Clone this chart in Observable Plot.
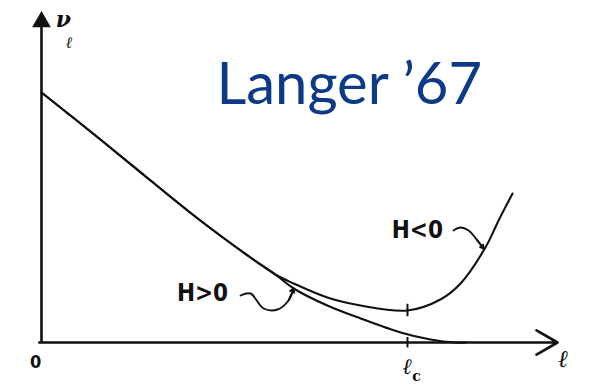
<!DOCTYPE html>
<html>
<head>
<meta charset="utf-8">
<script src="https://cdn.jsdelivr.net/npm/d3@7"></script>
<script src="https://cdn.jsdelivr.net/npm/@observablehq/plot@0.6"></script>
<style>
  html, body { margin: 0; padding: 0; background: #fff; }
  #chart svg { display: block; }
</style>
</head>
<body>
<div id="chart"></div>
<script>
// ν_ℓ versus ℓ for the two signs of H (ℓ in units of ℓc)
const posEll = [0, 0.161, 0.298, 0.434, 0.571, 0.639, 0.689, 0.781, 0.872, 0.981, 1.063, 1.131, 1.16];
const posNu  = [1.0, 0.812, 0.648, 0.488, 0.34, 0.272, 0.216, 0.148, 0.096, 0.04, 0.012, 0.0, 0.0];

const negEll = [0, 0.161, 0.298, 0.434, 0.571, 0.639, 0.689, 0.781, 0.872, 1.0, 1.09, 1.145, 1.213, 1.249, 1.287];
const negNu  = [1.0, 0.812, 0.648, 0.488, 0.34, 0.272, 0.236, 0.18, 0.148, 0.128, 0.172, 0.236, 0.38, 0.488, 0.596];

// hand-drawn pointer squiggles next to the labels
const posSquiggleEll = [0.544, 0.571, 0.607, 0.645, 0.675, 0.689];
const posSquiggleNu  = [0.188, 0.196, 0.136, 0.132, 0.168, 0.216];
const negSquiggleEll = [1.126, 1.145, 1.167, 1.189, 1.208];
const negSquiggleNu  = [0.448, 0.46, 0.448, 0.412, 0.376];

const ellC = 1;
const ellMax = 1.41;
const nuMax = 1.308;
const title = "Langer \u201967";
const curveLabels = ["H>0", "H<0"];

const toRows = (xs, ys) => xs.map((x, i) => ({x, y: ys[i]}));
const posRows = toRows(posEll, posNu);
const negRows = toRows(negEll, negNu);
const posSq = toRows(posSquiggleEll, posSquiggleNu);
const negSq = toRows(negSquiggleEll, negSquiggleNu);
const nuAtC = negNu[negEll.indexOf(ellC)];

const ink = "#111";
const hand = "'DejaVu Sans Condensed', 'DejaVu Sans', sans-serif";
const script = "'DejaVu Serif', serif";

const chart = Plot.plot({
  width: 594,
  height: 384,
  margin: 0,
  x: {domain: [-0.112, 1.511], axis: null},
  y: {domain: [-0.168, 1.368], axis: null},
  style: {background: "#fff", overflow: "visible"},
  marks: [
    // axes
    Plot.ruleX([0], {y1: -0.004, y2: nuMax - 0.03, stroke: ink, strokeWidth: 2.6}),
    Plot.dot([{x: 0, y: nuMax - 0.025}], {x: "x", y: "y", symbol: "triangle", r: 6, fill: ink, stroke: ink}),
    Plot.arrow([{x1: -0.006, x2: ellMax, y: 0}], {x1: "x1", x2: "x2", y1: "y", y2: "y", stroke: ink, strokeWidth: 2.6, headLength: 14, headAngle: 60}),
    // tick at ℓc on the axis and on the H<0 curve
    Plot.ruleX([ellC], {y1: -0.022, y2: 0.02, stroke: ink, strokeWidth: 2}),
    Plot.ruleX([ellC], {y1: nuAtC - 0.025, y2: nuAtC + 0.025, stroke: ink, strokeWidth: 2}),
    // curves
    Plot.line(posRows, {x: "x", y: "y", curve: "catmull-rom", stroke: ink, strokeWidth: 2.1}),
    Plot.line(negRows, {x: "x", y: "y", curve: "catmull-rom", stroke: ink, strokeWidth: 2.1}),
    // pointer squiggles
    Plot.line(posSq, {x: "x", y: "y", curve: "catmull-rom", stroke: ink, strokeWidth: 1.9}),
    Plot.arrow([{x1: posSq[4].x, y1: posSq[4].y, x2: posSq[5].x, y2: posSq[5].y}], {x1: "x1", y1: "y1", x2: "x2", y2: "y2", stroke: ink, strokeWidth: 1.9, headLength: 9}),
    Plot.line(negSq, {x: "x", y: "y", curve: "catmull-rom", stroke: ink, strokeWidth: 1.9}),
    Plot.arrow([{x1: negSq[3].x, y1: negSq[3].y, x2: negSq[4].x, y2: negSq[4].y}], {x1: "x1", y1: "y1", x2: "x2", y2: "y2", stroke: ink, strokeWidth: 1.9, headLength: 9}),
    // curve labels
    Plot.text([{x: 0.44, y: 0.198, t: curveLabels[0]}], {x: "x", y: "y", text: "t", fontFamily: hand, fontWeight: "bold", fontSize: 24, fill: ink, textAnchor: "middle"}),
    Plot.text([{x: 1.027, y: 0.448, t: curveLabels[1]}], {x: "x", y: "y", text: "t", fontFamily: hand, fontWeight: "bold", fontSize: 24, fill: ink, textAnchor: "middle"}),
    // axis labels
    Plot.text([{x: -0.016, y: -0.08, t: "0"}], {x: "x", y: "y", text: "t", fontFamily: hand, fontWeight: "bold", fontSize: 18, fill: ink}),
    Plot.text([{x: ellC, y: -0.096, t: "\u2113"}], {x: "x", y: "y", text: "t", fontFamily: script, fontStyle: "italic", fontWeight: "bold", fontSize: 22, fill: ink}),
    Plot.text([{x: ellC + 0.025, y: -0.135, t: "c"}], {x: "x", y: "y", text: "t", fontFamily: script, fontWeight: "bold", fontSize: 14, fill: ink}),
    Plot.text([{x: 1.426, y: -0.068, t: "\u2113"}], {x: "x", y: "y", text: "t", fontFamily: script, fontStyle: "italic", fontWeight: "bold", fontSize: 24, fill: ink}),
    Plot.text([{x: 0.06, y: 1.292, t: "\u03bd"}], {x: "x", y: "y", text: "t", fontFamily: script, fontStyle: "italic", fontWeight: "bold", fontSize: 22, fill: ink}),
    Plot.text([{x: 0.076, y: 1.198, t: "\u2113"}], {x: "x", y: "y", text: "t", fontFamily: script, fontStyle: "italic", fontWeight: "bold", fontSize: 16, fill: ink}),
    // title
    Plot.text([{x: 0.478, y: 0.956, t: title}], {x: "x", y: "y", text: "t", fontFamily: "Lato, 'Open Sans', sans-serif", fontSize: 58, fill: "#0d3a87", textAnchor: "start", lineAnchor: "bottom"})
  ]
});

document.getElementById("chart").append(chart);
</script>
</body>
</html>
